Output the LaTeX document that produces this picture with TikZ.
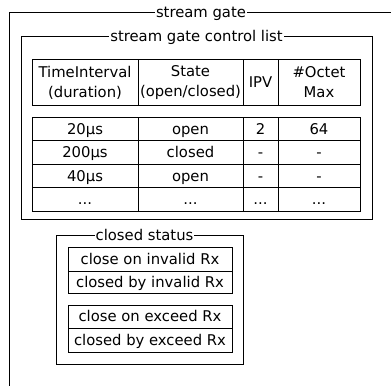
\documentclass[tikz,border=0pt]{standalone}
\usepackage{fontspec}
\setmainfont{DejaVu Sans}
\tikzset{
  frame/.style={line width=1pt},
  framelabel/.style={fill=white, inner sep=1pt, text height=10.6pt, text depth=0pt, font=\fontsize{14.8}{19}\selectfont},
  cell/.style={inner sep=0pt, text height=10.6pt, text depth=0pt, font=\fontsize{14.8}{19}\selectfont},
  headcell/.style={inner sep=0pt, align=center, font=\fontsize{14.8}{20}\selectfont},
}

\begin{document}
\begin{tikzpicture}[x=1pt,y=-1pt]
			%%%%% START %%%%%
			\useasboundingbox (0,0) rectangle (391,386);
			
			% stream gate
			\draw[frame] (391,12) -- (9,12) -- (9,386);
			\node[framelabel] (sg) at (201,12) {stream gate};
			
			% control list
			\draw[frame] (21,36) rectangle (372,219);
			\node[framelabel] (sgcl) at (196.5,36) {stream gate control list};
			
			\draw[frame] (32,59) rectangle (360,105);
			\foreach \x in {138,243,278} \draw[frame] (\x,59) -- (\x,105);
			\node[headcell] (hti) at (85,82.5) {TimeInterval\\(duration)};
			\node[headcell] (hst) at (190.5,82.5) {State\\(open/closed)};
			\node[cell] (hipv) at (260.5,82) {IPV};
			\node[headcell] (hoct) at (319,82.5) {\#Octet\\Max};
			
			\draw[frame] (32,117) rectangle (360,211);
			\foreach \x in {138,243,278} \draw[frame] (\x,117) -- (\x,211);
			\foreach \y in {140.5,164,187.5} \draw[frame] (32,\y) -- (360,\y);
			
			\node[cell] (ti1) at (85,129) {20µs};
			\node[cell] (st1) at (190.5,129) {open};
			\node[cell] (ipv1) at (260.5,129) {2};
			\node[cell] (oct1) at (319,129) {64};
			
			\node[cell] (ti2) at (85,152.5) {200µs};
			\node[cell] (st2) at (190.5,152.5) {closed};
			\node[cell] (ipv2) at (260.5,152.5) {-};
			\node[cell] (oct2) at (319,152.5) {-};
			
			\node[cell] (ti3) at (85,176) {40µs};
			\node[cell] (st3) at (190.5,176) {open};
			\node[cell] (ipv3) at (260.5,176) {-};
			\node[cell] (oct3) at (319,176) {-};
			
			\node[cell] (ti4) at (85,199.5) {...};
			\node[cell] (st4) at (190.5,199.5) {...};
			\node[cell] (ipv4) at (260.5,199.5) {...};
			\node[cell] (oct4) at (319,199.5) {...};
			
			% closed status
			\draw[frame] (56,235) rectangle (243,364);
			\node[framelabel] (cs) at (144.5,235) {closed status};
			
			\draw[frame] (68,247) rectangle (232,293);
			\draw[frame] (68,271) -- (232,271);
			\node[cell] (coi) at (150,259) {close on invalid Rx};
			\node[cell] (cbi) at (150,282) {closed by invalid Rx};
			
			\draw[frame] (68,305) rectangle (232,352);
			\draw[frame] (68,328) -- (232,328);
			\node[cell] (coe) at (150,316.5) {close on exceed Rx};
			\node[cell] (cbe) at (150,340) {closed by exceed Rx};
			
			%%%%% END %%%%%
\end{tikzpicture}
\end{document}
